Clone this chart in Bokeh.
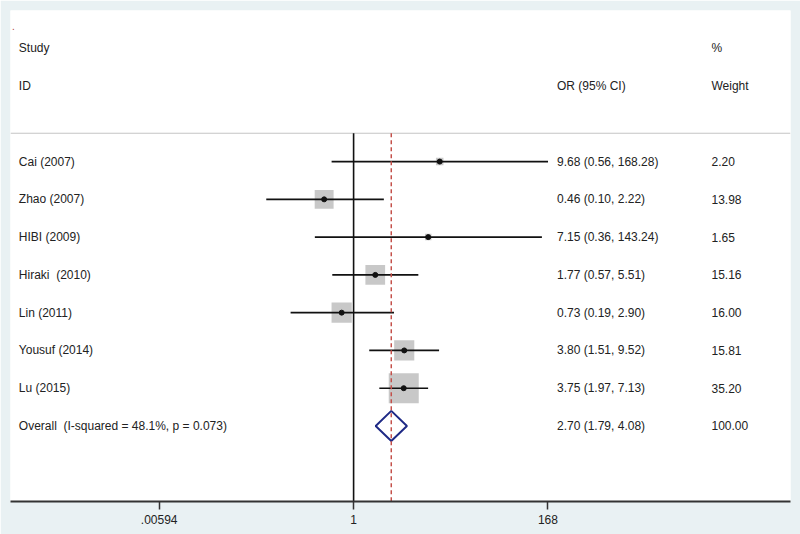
import math
from bokeh.plotting import figure
from bokeh.models import Range1d, FixedTicker, CustomJSTickFormatter, ColumnDataSource
from bokeh.core.properties import value
from bokeh.embed import file_html
from bokeh.resources import INLINE

# ---- data ----
studies = ["Cai (2007)", "Zhao (2007)", "HIBI (2009)", "Hiraki\u00a0 (2010)",
           "Lin (2011)", "Yousuf (2014)", "Lu (2015)"]
odds_ratio = [9.68, 0.46, 7.15, 1.77, 0.73, 3.80, 3.75]
ci_low = [0.56, 0.10, 0.36, 0.57, 0.19, 1.51, 1.97]
ci_high = [168.28, 2.22, 143.24, 5.51, 2.90, 9.52, 7.13]
weights = [2.20, 13.98, 1.65, 15.16, 16.00, 15.81, 35.20]

overall_label = "Overall\u00a0 (I-squared = 48.1%, p = 0.073)"
overall_or = 2.70
overall_low = 1.79
overall_high = 4.08
overall_weight = 100.00

tick_values = [0.00594, 1, 168]
tick_labels = [".00594", "1", "168"]

# ---- layout constants ----
FRAME_W = 780
PX_PER_LN = 37.93          # pixels per natural-log unit
ONE_PX = 343.1             # frame pixel offset of OR = 1
X_MIN = math.exp(-ONE_PX / PX_PER_LN)
X_MAX = math.exp((FRAME_W - ONE_PX) / PX_PER_LN)


def fx(px):
    """frame pixel offset -> data x on the log axis"""
    return math.exp((px - ONE_PX) / PX_PER_LN)


FONT = value("Liberation Sans")
FSIZE = value("12px")
TXT = "#222222"

p = figure(width=800, height=534, x_axis_type="log",
           x_range=Range1d(X_MIN, X_MAX), y_range=Range1d(9, -4),
           output_backend="svg", toolbar_location=None, y_axis_location=None,
           min_border_left=10, min_border_right=10, min_border_top=10,
           min_border_bottom=33, background_fill_color="white",
           border_fill_color="#e9f1f3", outline_line_color=None)
p.xgrid.visible = False
p.ygrid.visible = False

ax = p.xaxis[0]
ax.ticker = FixedTicker(ticks=tick_values, minor_ticks=[])
ax.formatter = CustomJSTickFormatter(
    args=dict(vals=tick_values, labels=tick_labels),
    code="""
    for (let i = 0; i < vals.length; i++) {
        if (Math.abs(vals[i] - tick) / vals[i] < 1e-6) return labels[i];
    }
    return '';
    """)
ax.axis_line_width = 2
ax.axis_line_color = "#333333"
ax.major_tick_out = 8
ax.major_tick_in = 0
ax.minor_tick_out = 0
ax.minor_tick_in = 0
ax.major_tick_line_width = 1.5
ax.major_tick_line_color = "#333333"
ax.major_label_text_font = "Liberation Sans"
ax.major_label_text_font_size = "12px"
ax.major_label_text_color = TXT
ax.major_label_standoff = 5

rows = list(range(len(studies)))
overall_row = len(studies)
SEP_Y = -0.75

src = ColumnDataSource(dict(
    y=rows, orr=odds_ratio, lo=ci_low, hi=ci_high, w=weights,
    side=[5.06 * math.sqrt(w) for w in weights],
))
ci_text = [f"{o:.2f} ({l:.2f}, {h:.2f})" for o, l, h in zip(odds_ratio, ci_low, ci_high)]
w_text = [f"{w:.2f}" for w in weights]

# separator line under header
p.segment(x0=[X_MIN], y0=[SEP_Y], x1=[X_MAX], y1=[SEP_Y],
          line_color="#c4c4c4", line_width=1.2)

# null-effect line
p.segment(x0=[1], y0=[SEP_Y], x1=[1], y1=[9], line_color="#111111", line_width=1.6)

# weight boxes
p.rect(x="orr", y="y", width="side", height="side", width_units="screen",
       height_units="screen", source=src, fill_color="#c8c8c8", line_color=None)

# CI lines
p.segment(x0="lo", y0="y", x1="hi", y1="y", source=src,
          line_color="#111111", line_width=1.6)

# point estimates
p.scatter(x="orr", y="y", source=src, size=5, color="#111111")

# overall diamond
p.patch(x=[overall_low, overall_or, overall_high, overall_or],
        y=[overall_row, overall_row - 0.4, overall_row, overall_row + 0.4],
        fill_color="white", line_color="#1f2a86", line_width=2)

# overall dashed line
p.segment(x0=[overall_or], y0=[SEP_Y], x1=[overall_or], y1=[9],
          line_color="#c4504a", line_width=1.5, line_dash="4 3")


def txt_col(x, ys, texts):
    p.text(x="x", y="y", text="t",
           source=ColumnDataSource(dict(x=[x] * len(ys), y=ys, t=texts)),
           text_font=FONT, text_font_size=FSIZE, text_baseline="middle",
           text_align="left", text_color=TXT)


LABEL_X = fx(8.3)
CI_X = fx(546.5)
W_X = fx(701)

txt_col(LABEL_X, rows + [overall_row, -3, -2], studies + [overall_label, "Study", "ID"])
txt_col(CI_X, rows + [overall_row, -2],
        ci_text + [f"{overall_or:.2f} ({overall_low:.2f}, {overall_high:.2f})", "OR (95% CI)"])
txt_col(W_X, rows + [overall_row, -3, -2], w_text + [f"{overall_weight:.2f}", "%", "Weight"])

# tiny mark at top-left
p.text(x=[fx(1.5)], y=[-3.6], text=["."], text_font=FONT,
       text_font_size=value("10px"), text_baseline="middle",
       text_align="left", text_color="#b0453a")

open("out.html", "w").write(file_html(p, INLINE))
